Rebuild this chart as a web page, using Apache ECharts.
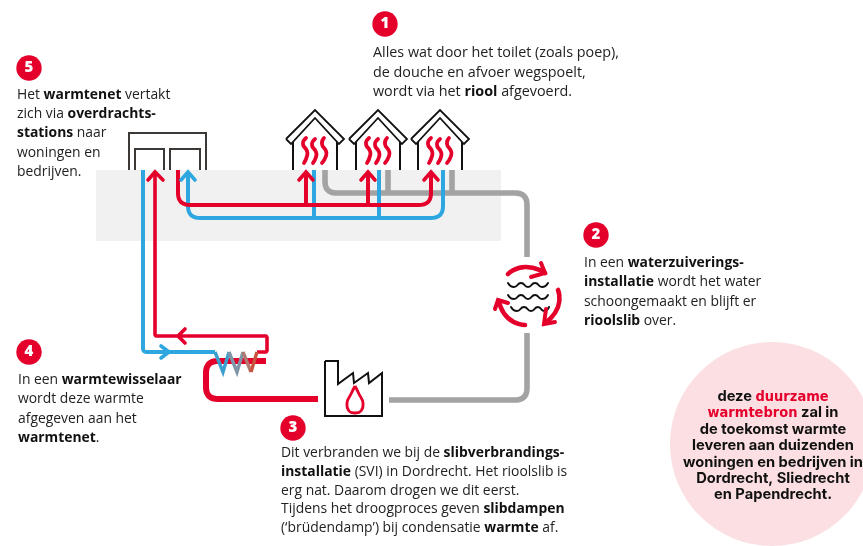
<!DOCTYPE html>
<html>
<head>
<meta charset="utf-8">
<style>html,body{margin:0;padding:0;background:#fff}#chart{width:863px;height:546px}</style>
<script src="https://cdn.jsdelivr.net/npm/echarts@6/dist/echarts.min.js"></script>
</head>
<body>
<div id="chart"></div>
<script>
// 颜色
const RED = '#e4002b', BLUE = '#2ea7e0', GREY = '#a3a3a3';

// 房屋位置（屋顶顶点 x）
const houseX = [315, 378, 440];
const houseRoof = [[-29, 29], [0, 0], [29, 29], [24, 34], [0, 8], [-24, 34], [-29, 29]];
const houseWallL = [[-22, 32], [-22, 60]];
const houseWallR = [[22, 32], [22, 60]];
const heatWaves = [
  [[-9, 28], [-12, 34], [-8, 41], [-8, 46], [-11, 53]],
  [[0, 29], [-3, 35], [1, 42], [1, 47], [-2, 53]],
  [[9, 28], [7, 34], [11, 41], [11, 46], [7, 53]]
];

// 管道
const redLeft = [[155, 173], [155, 336], [267, 336], [267, 352], [257, 352]];
const redRight = [[178, 170], [178, 205], [431, 205], [431, 173]];
const redBranches = [[[306, 205], [306, 173]], [[368, 205], [368, 173]]];
const redThick = [[266, 361], [206, 361], [206, 399], [318, 399]];
const blueLeft = [[143, 170], [143, 352], [215, 352]];
const blueRight = [[188, 173], [188, 218], [443, 218], [443, 170]];
const blueBranches = [[[314, 170], [314, 218]], [[379, 170], [379, 218]]];
const greyTop = [[325, 170], [325, 193], [527, 193], [527, 257]];
const greyBranches = [[[388, 170], [388, 193]], [[452, 170], [452, 193]]];
const greyBottom = [[527, 333], [527, 400], [389, 400]];

// 换热器
const coilBlue = [[215, 352], [223, 372], [229, 352]];
const coilMid1 = [[229, 352], [237, 372], [243, 352]];
const coilMid2 = [[243, 352], [251, 372]];
const coilRed = [[251, 372], [257, 352]];

// 箭头（左翼、尖、右翼）
const arrowsRed = [
  [[148, 180], [155, 172], [163, 180]],
  [[299, 180], [306, 172], [313, 180]],
  [[361, 180], [368, 172], [375, 180]],
  [[424, 180], [431, 172], [438, 180]],
  [[185, 329], [178, 336], [185, 343]]
];
const arrowsBlue = [
  [[181, 180], [188, 172], [195, 180]],
  [[161, 346], [169, 352], [161, 358]]
];

// 换乘站
const stationOuter = [[129, 170], [129, 133], [206, 133], [206, 170]];
const stationInnerL = [[135, 170], [135, 149], [164, 149], [164, 170]];
const stationInnerR = [[170, 170], [170, 149], [200, 149], [200, 170]];

// 工厂
const factory = [[325, 361], [338, 361], [338, 384], [353, 373], [354, 383], [368, 373], [369, 383], [382, 373], [382, 416], [325, 416], [325, 361]];
const flame = [[355, 386], [351, 394], [347, 403], [349, 411], [355, 413], [361, 411], [363, 403], [359, 394], [355, 386]];

// 水处理
const waterWaves = [
  [[508, 283], [514, 287], [521, 283], [528, 287], [535, 283], [542, 287], [548, 283]],
  [[508, 295], [514, 299], [521, 295], [528, 299], [535, 295], [542, 299], [548, 295]],
  [[511, 307], [517, 311], [524, 307], [531, 311], [538, 307], [544, 311], [549, 307]]
];
const cycleArcs = [
  [[508, 274], [525, 267], [545, 273]],
  [[558, 290], [558, 307], [546, 322]],
  [[525, 325], [508, 318], [499, 301]]
];
const cycleHeads = [
  [[541, 263], [545, 273], [531, 277]],
  [[546, 309], [544, 324], [555, 322]],
  [[495, 309], [498, 300], [508, 303]]
];

// 文字
const badges = [
  { n: '1', x: 385, y: 24 },
  { n: '2', x: 596, y: 235 },
  { n: '3', x: 293, y: 428 },
  { n: '4', x: 29, y: 352 },
  { n: '5', x: 29, y: 68 }
];
const textBlocks = [
  { x: 373, y: 53, fs: 14.35, lh: 19.6, lines: ['Alles wat door het toilet (zoals poep),', 'de douche en afvoer wegspoelt,', 'wordt via het {b|riool} afgevoerd.'] },
  { x: 584, y: 263, fs: 13.9, lh: 19.3, lines: ['In een {b|waterzuiverings-}', '{b|installatie} wordt het water', 'schoongemaakt en blijft er', '{b|rioolslib} over.'] },
  { x: 281, y: 453, fs: 13.9, lh: 18.8, lines: ['Dit verbranden we bij de {b|slibverbrandings-}', '{b|installatie} (SVI) in Dordrecht. Het rioolslib is', 'erg nat. Daarom drogen we dit eerst.', 'Tijdens het droogproces geven {b|slibdampen}', '(‘brüdendamp’) bij condensatie {b|warmte} af.'] },
  { x: 18, y: 380, fs: 13.9, lh: 19.3, lines: ['In een {b|warmtewisselaar}', 'wordt deze warmte', 'afgegeven aan het', '{b|warmtenet}.'] },
  { x: 17, y: 95, fs: 13.9, lh: 19.2, lines: ['Het {b|warmtenet} vertakt', 'zich via {b|overdrachts-}', '{b|stations} naar', 'woningen en', 'bedrijven.'] }
];
const calloutLines = [
  { x: 773, y: 397, t: 'deze {h|duurzame}' },
  { x: 773, y: 413, t: '{h|warmtebron} zal in' },
  { x: 773, y: 430, t: 'de toekomst warmte' },
  { x: 773, y: 446, t: 'leveren aan duizenden' },
  { x: 773, y: 463, t: 'woningen en bedrijven in' },
  { x: 773, y: 479, t: 'Dordrecht, Sliedrecht' },
  { x: 773, y: 495, t: 'en Papendrecht.' }
];
const calloutCircle = { x: 772, y: 444, r: 102 };

const myChart = echarts.init(document.getElementById('chart'), null, { renderer: 'canvas' });

// 把折线拐角改成圆角（取样成多段线）
const roundCorners = (pts, r) => {
  const out = [pts[0]];
  for (let i = 1; i < pts.length - 1; i++) {
    const [p0, p1, p2] = [pts[i - 1], pts[i], pts[i + 1]];
    const l1 = Math.hypot(p1[0] - p0[0], p1[1] - p0[1]);
    const l2 = Math.hypot(p2[0] - p1[0], p2[1] - p1[1]);
    const q = Math.min(r, l1 / 2, l2 / 2);
    const a = [p1[0] - (p1[0] - p0[0]) * q / l1, p1[1] - (p1[1] - p0[1]) * q / l1];
    const b = [p1[0] + (p2[0] - p1[0]) * q / l2, p1[1] + (p2[1] - p1[1]) * q / l2];
    for (let t = 0; t <= 10; t++) {
      const u = t / 10, v = 1 - u;
      out.push([
        v * v * a[0] + 2 * u * v * p1[0] + u * u * b[0],
        v * v * a[1] + 2 * u * v * p1[1] + u * u * b[1]
      ]);
    }
  }
  out.push(pts[pts.length - 1]);
  return out;
};

const shift = (pts, dx) => pts.map(p => [p[0] + dx, p[1] + 110]);

// 所有线条，按绘制顺序
const strokes = [];
const add = (points, color, width, opt = {}) => strokes.push({ points, color, width, ...opt });

add(stationOuter, '#3c3835', 2);
add(stationInnerL, '#3c3835', 2);
add(stationInnerR, '#3c3835', 2);
houseX.forEach(x => {
  add(shift(houseRoof, x), '#111', 1.8);
  add(shift(houseWallL, x), '#111', 2);
  add(shift(houseWallR, x), '#111', 2);
  heatWaves.forEach(w => add(shift(w, x), RED, 3.8, { smooth: 0.6, cap: 'round' }));
});
greyBranches.forEach(p => add(p, GREY, 5.6));
add(roundCorners(greyTop, 12), GREY, 5.6);
add(roundCorners(greyBottom, 12), GREY, 5.6);
blueBranches.forEach(p => add(p, BLUE, 4));
add(roundCorners(blueRight, 12), BLUE, 4);
add(roundCorners(blueLeft, 4), BLUE, 4);
redBranches.forEach(p => add(p, RED, 4));
add(roundCorners(redRight, 12), RED, 4);
add(roundCorners(redThick, 12), RED, 6);
add(roundCorners(redLeft, 2), RED, 3.6);
arrowsBlue.forEach(p => add(p, BLUE, 3.6, { cap: 'round' }));
arrowsRed.forEach(p => add(p, RED, 3.6, { cap: 'round' }));
add(coilBlue, '#3b9fd0', 3.4);
add(coilMid1, '#8094a8', 3.4);
add(coilMid2, '#b07a70', 3.4);
add(coilRed, '#c9533f', 3.4);
add(factory, '#111', 2);
add(flame, RED, 2.8, { smooth: 0.5 });
waterWaves.forEach(p => add(p, '#111', 2, { smooth: 0.6, cap: 'round' }));
cycleArcs.forEach(p => add(p, RED, 4.6, { smooth: 0.6, cap: 'round' }));
cycleHeads.forEach(p => add(p, RED, 4, { cap: 'round' }));

const renderStroke = (params, api) => {
  const s = strokes[params.dataIndex];
  return {
    type: 'polyline',
    shape: { points: s.points.map(p => api.coord(p)), smooth: s.smooth || 0 },
    style: { stroke: s.color, lineWidth: s.width, fill: null, lineJoin: 'miter', lineCap: s.cap || 'butt' }
  };
};

const renderText = (params, api) => {
  const b = textBlocks[params.dataIndex];
  const [x, y] = api.coord([b.x, b.y]);
  return {
    type: 'text',
    x,
    y: y - b.lh / 2,
    style: {
      text: b.lines.join('\n'),
      fontFamily: 'Open Sans',
      fontSize: b.fs,
      lineHeight: b.lh,
      fill: '#222',
      verticalAlign: 'top',
      rich: {
        b: { fontFamily: 'Open Sans', fontSize: b.fs, lineHeight: b.lh, fontWeight: 'bold', fill: '#111' }
      }
    }
  };
};

const renderCallout = (params, api) => {
  const c = calloutLines[params.dataIndex];
  const [x, y] = api.coord([c.x, c.y]);
  return {
    type: 'text',
    x, y,
    style: {
      text: c.t,
      fontFamily: 'Inter',
      fontSize: 14.7,
      fontWeight: 700,
      fill: '#111',
      align: 'center',
      verticalAlign: 'middle',
      rich: {
        h: { fontFamily: 'DejaVu Sans Condensed, sans-serif', fontSize: 14.5, fontWeight: 'bold', fill: RED }
      }
    }
  };
};

myChart.setOption({
  animation: false,
  grid: { left: 0, right: 0, top: 0, bottom: 0 },
  xAxis: { type: 'value', min: 0, max: 863, show: false },
  yAxis: { type: 'value', min: 0, max: 546, inverse: true, show: false },
  series: [
    // 灰色背景带
    {
      type: 'custom',
      coordinateSystem: 'cartesian2d',
      data: [[96, 170, 501, 241]],
      z: 1,
      renderItem: (params, api) => {
        const a = api.coord([api.value(0), api.value(1)]);
        const b = api.coord([api.value(2), api.value(3)]);
        return { type: 'rect', shape: { x: a[0], y: a[1], width: b[0] - a[0], height: b[1] - a[1] }, style: { fill: '#f1f1f1' } };
      }
    },
    // 粉色圆
    {
      type: 'scatter',
      data: [[calloutCircle.x, calloutCircle.y]],
      symbolSize: calloutCircle.r * 2,
      itemStyle: { color: '#fbdfe2', opacity: 1 },
      silent: true,
      z: 1
    },
    {
      type: 'custom',
      coordinateSystem: 'cartesian2d',
      data: strokes.map((s, i) => [i]),
      encode: { x: 0 },
      z: 2,
      renderItem: renderStroke
    },
    // 编号圆点
    {
      type: 'scatter',
      data: badges.map(b => ({ value: [b.x, b.y], name: b.n })),
      symbolSize: 25.4,
      itemStyle: { color: RED, opacity: 1 },
      label: { show: true, position: 'inside', formatter: '{b}', color: '#fff', fontFamily: 'Open Sans', fontWeight: 800, fontSize: 15 },
      silent: true,
      z: 3
    },
    {
      type: 'custom',
      coordinateSystem: 'cartesian2d',
      data: textBlocks.map((b, i) => [i]),
      z: 4,
      renderItem: renderText
    },
    {
      type: 'custom',
      coordinateSystem: 'cartesian2d',
      data: calloutLines.map((c, i) => [i]),
      z: 4,
      renderItem: renderCallout
    }
  ]
});
</script>
</body>
</html>
